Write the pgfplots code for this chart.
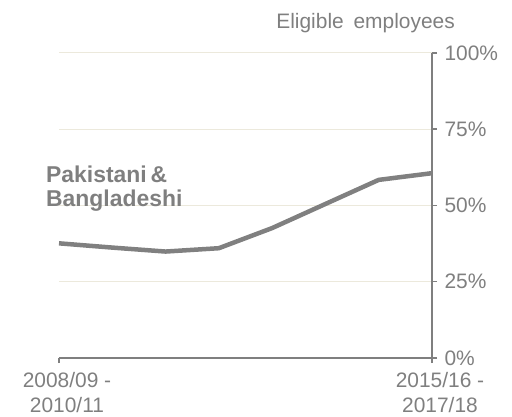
\documentclass[border=0pt]{standalone}
\usepackage{pgfplots}
\pgfplotsset{compat=1.18}
\usepackage{fontspec}
\setmainfont{Liberation Sans}
\definecolor{txtgray}{RGB}{127,127,127}
\definecolor{linegray}{RGB}{128,128,128}
\definecolor{gridbeige}{RGB}{236,233,220}
\begin{document}
\begin{tikzpicture}
\path (-59bp,-59bp) rectangle (453bp,358bp);
\begin{axis}[
 at={(0,0)}, anchor=south west, scale only axis,
 width=373bp, height=305bp,
 xmin=0, xmax=7, ymin=0, ymax=100,
 axis x line*=bottom, axis y line*=right,
 axis line style={draw=txtgray, line width=1.5bp, -},
 xtick={0,7}, xticklabels={{2008/09 -\\2010/11},{2015/16 -\\2017/18}},
 xticklabel style={align=center, xshift=8bp, yshift=-6bp},
 ytick={0,25,50,75,100}, yticklabel={\pgfmathprintnumber{\tick}\%},
 yticklabel style={xshift=4bp},
 ymajorgrids, grid style={draw=gridbeige, line width=1bp},
 tick align=outside, major tick length=5bp,
 tick style={draw=txtgray, line width=1.5bp},
 tick label style={font=\fontsize{21}{25}\selectfont, text=txtgray},
 /pgf/number format/assume math mode=true,
 clip=false,
]
\addplot[linegray, line width=4.5bp, line join=round] coordinates {
(0,37.6) (1,36.2) (2,34.9) (3,36.0) (4,42.6) (5,50.5) (6,58.4) (7,60.6)
};
\node[anchor=base west, inner sep=0pt, text=txtgray, font=\fontsize{23}{26}\selectfont\bfseries, xshift=-13bp] at (axis cs:0,57.7) {Pakistani\,\&};
\node[anchor=base west, inner sep=0pt, text=txtgray, font=\fontsize{23}{26}\selectfont\bfseries, xshift=-13bp] at (axis cs:0,49.7) {Bangladeshi};
\node[anchor=base east, inner sep=0pt, text=txtgray, font=\fontsize{21}{24}\selectfont, xshift=23bp, yshift=24.5bp] at (rel axis cs:1,1) {Eligible\hspace{4bp} employees};
\end{axis}
\end{tikzpicture}
\end{document}
